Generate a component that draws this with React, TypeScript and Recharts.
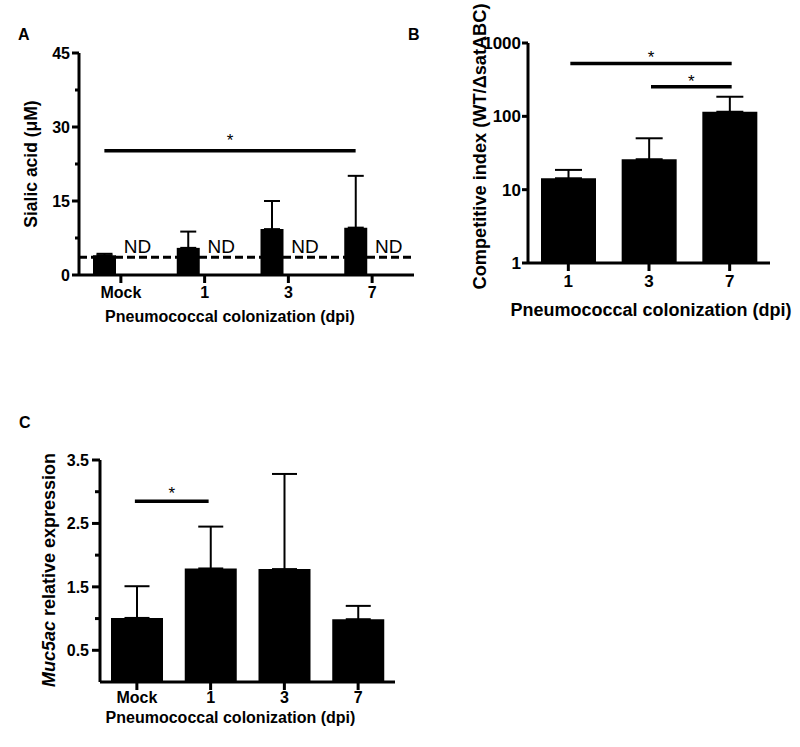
import { BarChart, Bar, XAxis, YAxis, ErrorBar, ReferenceLine, LabelList } from 'recharts'

// A: sialic acid
const groupsA = ['Mock', '1', '3', '7']
const sialicMean = [4.0, 5.5, 9.3, 9.6]
const sialicUpper = [4.3, 8.8, 15.0, 20.1]
const sialicLOD = 3.6
const sialicTicks = [0, 7.5, 15, 22.5, 30, 37.5, 45]
const sigA = [{ from: 'Mock', to: '7', y: 25.2 }]

// B: competitive index (log)
const groupsB = ['1', '3', '7']
const ciMean = [14.3, 26.0, 115.5]
const ciUpper = [18.6, 50.2, 185]
const ciTicks = [1, 10, 100, 1000]
const sigB = [
  { from: '1', to: '7', y: 526 },
  { from: '3', to: '7', y: 253 },
]

// C: Muc5ac expression
const groupsC = ['Mock', '1', '3', '7']
const mucMean = [1.01, 1.79, 1.78, 0.99]
const mucUpper = [1.51, 2.45, 3.28, 1.2]
const mucTicks = [0.5, 1, 1.5, 2, 2.5, 3, 3.5]
const sigC = [{ from: 'Mock', to: '1', y: 2.85 }]

const xTitleText = 'Pneumococcal colonization (dpi)'

const dataA = groupsA.map((g, i) => ({ g, mean: sialicMean[i], err: [0, sialicUpper[i] - sialicMean[i]], nd: sialicLOD }))
const dataB = groupsB.map((g, i) => ({ g, mean: ciMean[i], err: [0, ciUpper[i] - ciMean[i]] }))
const dataC = groupsC.map((g, i) => ({ g, mean: mucMean[i], err: [0, mucUpper[i] - mucMean[i]] }))

const FONT = '"Liberation Sans", Arial, sans-serif'
const axisLine = { stroke: '#000', strokeWidth: 3 }

const yTick = (fmt: (v: number) => string, size: number, major: number, minor: number, gap: number) => (p: any) => {
  const label = fmt(p.payload.value)
  return (
    <g>
      <line x1={p.x - (label ? major : minor)} x2={p.x} y1={p.y} y2={p.y} stroke="#000" strokeWidth={3} />
      {label && (
        <text x={p.x - major - gap} y={p.y} dy="0.36em" textAnchor="end" fontSize={size} fontWeight={700} fill="#000">
          {label}
        </text>
      )}
    </g>
  )
}

const bracket = (shift: number, lift: number) => (p: any) => (
  <g>
    <line x1={p.x1 + shift} x2={p.x2 + shift} y1={p.y1} y2={p.y2} stroke="#000" strokeWidth={3.5} />
    <text x={(p.x1 + p.x2) / 2 + shift} y={p.y1 - lift} textAnchor="middle" fontSize={17} fill="#000">*</text>
  </g>
)

const xTickStyle = (size: number) => ({ fill: '#000', fontSize: size, fontWeight: 700 })

function VText({ x, y, size, children }: { x: number; y: number; size: number; children: any }) {
  return (
    <text x={x} y={y} dy="0.36em" transform={`rotate(-90, ${x}, ${y})`} textAnchor="middle" fontSize={size} fontWeight={700} fill="#000">
      {children}
    </text>
  )
}

const barA = 23
const gapA = 10

export default function App() {
  return (
    <div style={{ position: 'absolute', left: 0, top: 0, width: 800, height: 747, fontFamily: FONT, background: '#fff' }}>
      <div style={{ position: 'absolute', left: 0, top: 0 }}>
        <BarChart width={430} height={335} data={dataA} margin={{ top: 53, right: 16, left: 0, bottom: 0 }} barGap={gapA}>
          <XAxis dataKey="g" height={60} interval={0} tickSize={8} tickMargin={4} tickLine={axisLine} axisLine={axisLine} tick={xTickStyle(16)} />
          <YAxis width={79} type="number" domain={[0, 45]} ticks={sialicTicks} interval={0} tickSize={0} tickMargin={0} tickLine={false} axisLine={axisLine}
            tick={yTick((v) => (v % 15 === 0 ? String(v) : ''), 16, 7, 4, 2)} />
          <Bar dataKey="mean" fill="#000" barSize={barA} isAnimationActive={false}>
            <ErrorBar dataKey="err" width={8} stroke="#000" strokeWidth={2} direction="y" />
          </Bar>
          <Bar dataKey="nd" fill="none" barSize={barA} isAnimationActive={false}>
            <LabelList dataKey="nd" position="top" offset={4} formatter={() => 'ND'} fill="#000" fontSize={19} />
          </Bar>
          <ReferenceLine y={sialicLOD} stroke="#000" strokeWidth={3} strokeDasharray="8 4" />
          {sigA.map((s, i) => (
            <ReferenceLine key={i} segment={[{ x: s.from, y: s.y }, { x: s.to, y: s.y }]} shape={bracket(-(barA + gapA) / 2, 5)} />
          ))}
        </BarChart>
      </div>

      <div style={{ position: 'absolute', left: 400, top: 0 }}>
        <BarChart width={400} height={323} data={dataB} margin={{ top: 43, right: 30, left: 0, bottom: 0 }}>
          <XAxis dataKey="g" height={60} interval={0} tickSize={8} tickMargin={4} tickLine={axisLine} axisLine={axisLine} tick={xTickStyle(17)} />
          <YAxis width={128} type="number" scale="log" domain={[1, 1000]} ticks={ciTicks} interval={0} allowDataOverflow tickSize={0} tickMargin={0} tickLine={false} axisLine={axisLine}
            tick={yTick((v) => String(v), 17, 6, 4, 1)} />
          <Bar dataKey="mean" fill="#000" barSize={55} isAnimationActive={false}>
            <ErrorBar dataKey="err" width={13.5} stroke="#000" strokeWidth={2} direction="y" />
          </Bar>
          {sigB.map((s, i) => (
            <ReferenceLine key={i} segment={[{ x: s.from, y: s.y }, { x: s.to, y: s.y }]} shape={bracket(2, 0)} />
          ))}
        </BarChart>
      </div>

      <div style={{ position: 'absolute', left: 0, top: 400 }}>
        <BarChart width={405} height={342} data={dataC} margin={{ top: 60, right: 10, left: 0, bottom: 0 }}>
          <XAxis dataKey="g" height={60} interval={0} tickSize={8} tickMargin={2} tickLine={axisLine} axisLine={axisLine} tick={xTickStyle(16)} />
          <YAxis width={100} type="number" domain={[0, 3.5]} ticks={mucTicks} interval={0} tickSize={0} tickMargin={0} tickLine={false} axisLine={axisLine}
            tick={yTick((v) => (v % 1 === 0.5 ? v.toFixed(1) : ''), 16, 8, 5, 3)} />
          <Bar dataKey="mean" fill="#000" barSize={52} isAnimationActive={false}>
            <ErrorBar dataKey="err" width={12.5} stroke="#000" strokeWidth={2} direction="y" />
          </Bar>
          {sigC.map((s, i) => (
            <ReferenceLine key={i} segment={[{ x: s.from, y: s.y }, { x: s.to, y: s.y }]} shape={bracket(-2, 2)} />
          ))}
        </BarChart>
      </div>

      {/* panel letters and axis titles */}
      <svg width={800} height={747} style={{ position: 'absolute', left: 0, top: 0, pointerEvents: 'none' }}>
        <g fontWeight={700} fontSize={16} fill="#000">
          <text x={18} y={40}>A</text>
          <text x={408} y={40}>B</text>
          <text x={19} y={428}>C</text>
        </g>
        <g fontWeight={700} fill="#000" textAnchor="middle">
          <text x={230} y={321.5} fontSize={16}>{xTitleText}</text>
          <text x={651} y={316} fontSize={18}>{xTitleText}</text>
          <text x={230.5} y={723.3} fontSize={16}>{xTitleText}</text>
        </g>
        <VText x={30.5} y={164} size={17.5}>Sialic acid (μM)</VText>
        <VText x={479} y={146.5} size={18.2}>Competitive index (WT/ΔsatABC)</VText>
        <VText x={48.5} y={570} size={18}>
          <tspan fontStyle="italic">Muc5ac</tspan> relative expression
        </VText>
      </svg>
    </div>
  )
}
